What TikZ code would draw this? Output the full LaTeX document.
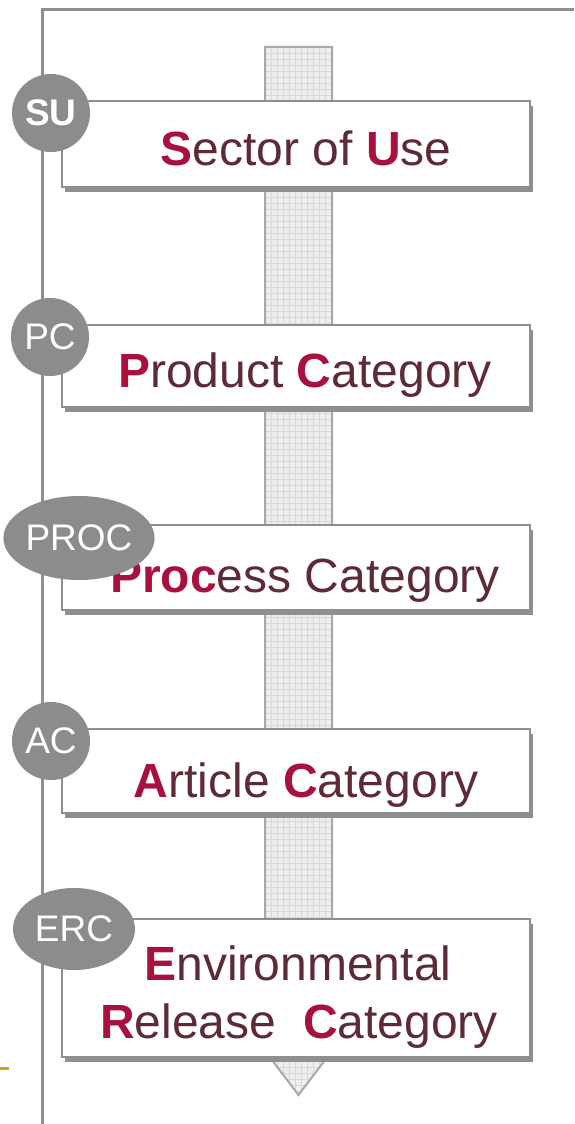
\documentclass[tikz,border=0pt]{standalone}
\usepackage{fontspec}
\setmainfont{Liberation Sans}
\usetikzlibrary{shapes.geometric,shadows}
\definecolor{linegray}{HTML}{8F8F8F}
\definecolor{badgegray}{HTML}{8C8C8C}
\definecolor{hired}{HTML}{A8103E}
\definecolor{darktxt}{HTML}{5E2A36}
\definecolor{shaftfill}{HTML}{EEEEEE}
\definecolor{gridgray}{HTML}{D8D8D8}
\definecolor{shaftedge}{HTML}{A8A8A8}
\definecolor{goldmark}{HTML}{D4A21A}
\newcommand{\hlt}[1]{\textbf{\color{hired}#1}}
\begin{document}
\begin{tikzpicture}[x=1pt,y=-1pt,
  frame/.style={draw=linegray, line width=3pt},
  catbox/.style={draw=linegray, line width=2pt, fill=white, minimum width=468pt, inner sep=0pt,
    drop shadow={shadow xshift=3pt, shadow yshift=-5pt, fill=linegray, opacity=1}},
  badge/.style={fill=badgegray, text=white, inner sep=0pt, font=\fontsize{37}{40}\selectfont},
  roundbadge/.style={badge, circle, minimum size=78pt},
  ovalbadge/.style={badge, ellipse},
  cattext/.style={anchor=base, inner sep=0pt, text=darktxt, font=\fontsize{48}{56}\selectfont}]
\useasboundingbox (0,0) rectangle (574,1124);
\fill[white] (0,0) rectangle (574,1124);
% frame lines
\coordinate (fbot) at (42,1124);
\coordinate (fcorner) at (42,10);
\coordinate (fright) at (574,10);
\draw[frame] (fbot) -- (fcorner) -- (fright);
\coordinate (gl) at (0,1068);
\coordinate (gr) at (9,1068);
\draw[goldmark, line width=3pt] (gl) -- (gr);
% shaft arrow
\def\shaftpath{(265,47) -- (332,47) -- (332,1035) -- (344,1035) -- (298.5,1095) -- (253,1035) -- (265,1035) -- cycle}
\fill[shaftfill] \shaftpath;
\begin{scope}
  \clip \shaftpath;
  \foreach \gx in {253,259,...,344} \draw[gridgray, line width=0.6pt] (\gx,47) -- (\gx,1095);
  \foreach \gy in {47,53,...,1095} \draw[gridgray, line width=0.6pt] (253,\gy) -- (344,\gy);
\end{scope}
\draw[shaftedge, line width=2pt, line join=miter] \shaftpath;
% boxes
\node[catbox, minimum height=86pt] (boxsu) at (296,144) {};
\node[catbox, minimum height=82pt] (boxpc) at (296,366) {};
\node[catbox, minimum height=85pt] (boxproc) at (296,567.5) {};
\node[catbox, minimum height=84pt] (boxac) at (296,771) {};
\node[catbox, minimum height=138pt] (boxerc) at (296,988) {};
% texts
\node[cattext] (tsu) at (306,165) {\hlt{S}ector of \hlt{U}se};
\node[cattext] (tpc) at (305,387) {\hlt{P}roduct \hlt{C}ategory};
\node[cattext] (tproc) at (305,592) {\hlt{Proc}ess Category};
\node[cattext] (tac) at (306,797) {\hlt{A}rticle \hlt{C}ategory};
\node[cattext] (terca) at (298,980) {\hlt{E}nvironmental};
\node[cattext] (tercb) at (299,1038) {\hlt{R}elease\ \ \hlt{C}ategory};
% badges
\node[roundbadge] (su) at (51,113) {\textbf{SU}};
\node[roundbadge] (pc) at (50,337) {PC};
\node[ovalbadge, minimum width=134pt, minimum height=84pt] (proc) at (79,538) {PROC};
\node[roundbadge] (ac) at (51,741) {AC};
\node[ovalbadge, minimum width=122pt, minimum height=82pt] (erc) at (74,929) {ERC};
\end{tikzpicture}
\end{document}
